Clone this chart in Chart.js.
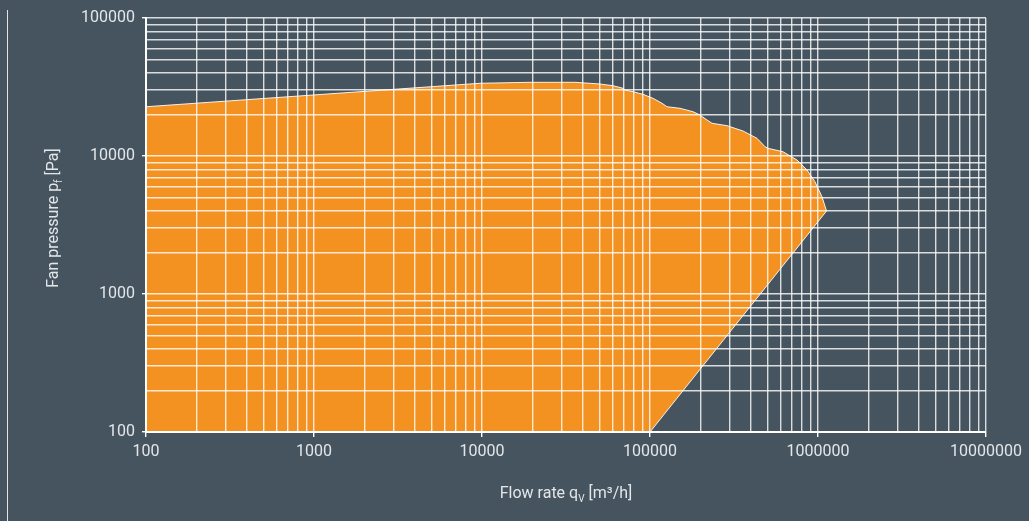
<!DOCTYPE html>
<html>
<head>
<meta charset="utf-8">
<script src="https://cdn.jsdelivr.net/npm/chart.js@4"></script>
<style>
  html, body { margin: 0; padding: 0; background: #46545f; }
  #wrap { position: relative; width: 1029px; height: 521px; }
</style>
</head>
<body>
<div id="wrap"><canvas id="fanChart"></canvas></div>
<script>
// Operating range outline (clockwise round the shape)
const flowRate = [100, 9730, 19300, 35800, 50400, 60200, 69100, 71000, 79200, 90800,
  104200, 117900, 126200, 151000, 180300, 198500, 218400, 233900, 287300, 357800,
  433500, 484000, 503700, 619000, 750000, 860000, 959000, 1056000, 1124000,
  100000, 100];
const fanPressure = [22750, 33650, 34200, 34200, 33240, 32320, 30950, 30080, 29240, 28000,
  26190, 24100, 22760, 22160, 20940, 19820, 18230, 17260, 16590, 15180,
  13430, 11670, 11370, 10740, 9350, 7920, 6510, 5070, 3992,
  100, 100];

// Labelled decades on each axis
const xTickLabels = [100, 1000, 10000, 100000, 1000000, 10000000];
const yTickLabels = [100, 1000, 10000, 100000];

const BG = '#46545f';
const ORANGE = '#f39220';
const GRID = 'rgba(255,255,255,0.8)';
const TEXT = '#e2e6e9';
const FONT = "'Liberation Sans Narrow', 'Roboto', sans-serif";

Chart.defaults.font.family = FONT;
Chart.defaults.font.size = 16;
Chart.defaults.color = TEXT;

// gridline at every 1..9 step of each decade, only the decades are major
function logTicks(scale, decades) {
    const ticks = [];
    for (let i = 0; i < decades.length; i++) {
        const d = decades[i];
        ticks.push({ value: d, major: true });
        if (i < decades.length - 1) {
            for (let m = 2; m <= 9; m++) ticks.push({ value: d * m, major: false });
        }
    }
    scale.ticks = ticks;
}

function drawPieces(ctx, pieces) {
    let total = 0;
    pieces.forEach(p => {
        ctx.font = p.size + 'px ' + FONT;
        p.w = ctx.measureText(p.text).width;
        total += p.w;
    });
    let x = -total / 2;
    pieces.forEach(p => {
        ctx.font = p.size + 'px ' + FONT;
        ctx.fillText(p.text, x, p.dy || 0);
        x += p.w;
    });
}

const decorPlugin = {
    id: 'decor',
    beforeDraw(chart) {
        const ctx = chart.ctx;
        ctx.save();
        ctx.fillStyle = BG;
        ctx.fillRect(0, 0, chart.width, chart.height);
        ctx.strokeStyle = 'rgba(255,255,255,0.85)';
        ctx.lineWidth = 1;
        ctx.beginPath();
        ctx.moveTo(7.5, 10);
        ctx.lineTo(7.5, chart.height);
        ctx.stroke();
        ctx.restore();
    },
    afterDraw(chart) {
        const ctx = chart.ctx;
        const area = chart.chartArea;
        ctx.save();
        ctx.fillStyle = TEXT;
        ctx.textBaseline = 'alphabetic';
        ctx.textAlign = 'left';

        // x axis title
        ctx.save();
        ctx.translate((area.left + area.right) / 2, 498);
        drawPieces(ctx, [
            { text: 'Flow rate q', size: 16 },
            { text: 'V', size: 10, dy: 4 },
            { text: ' [m\u00b3/h]', size: 16 }
        ]);
        ctx.restore();

        // y axis title
        ctx.save();
        ctx.translate(58, (area.top + area.bottom) / 2 - 7);
        ctx.rotate(-Math.PI / 2);
        drawPieces(ctx, [
            { text: 'Fan pressure p', size: 16 },
            { text: 'f', size: 10, dy: 4 },
            { text: ' [Pa]', size: 16 }
        ]);
        ctx.restore();
        ctx.restore();
    }
};

const points = flowRate.map((q, i) => ({ x: q, y: fanPressure[i] }));

const tickMark = c => (c.tick && c.tick.major) ? '#ffffff' : 'rgba(0,0,0,0)';

new Chart(document.getElementById('fanChart'), {
    type: 'line',
    data: {
        datasets: [{
            data: points,
            fill: 'shape',
            backgroundColor: ORANGE,
            borderColor: 'rgba(255,255,255,0.9)',
            borderWidth: 1,
            pointRadius: 0,
            tension: 0
        }]
    },
    options: {
        responsive: true,
        maintainAspectRatio: false,
        animation: false,
        layout: { padding: { left: 0, right: 43, top: 18, bottom: 0 } },
        plugins: {
            legend: { display: false },
            tooltip: { enabled: false }
        },
        scales: {
            x: {
                type: 'logarithmic',
                min: xTickLabels[0],
                max: xTickLabels[xTickLabels.length - 1],
                afterBuildTicks: s => logTicks(s, xTickLabels),
                afterFit: s => { s.height = 89; },
                border: { color: '#ffffff', width: 2, z: 2 },
                grid: {
                    z: 1,
                    color: GRID,
                    lineWidth: 1.4,
                    tickLength: 5,
                    tickColor: tickMark
                },
                ticks: {
                    autoSkip: false,
                    maxRotation: 0,
                    padding: 5,
                    color: TEXT,
                    callback: v => xTickLabels.includes(v) ? String(v) : ''
                }
            },
            y: {
                type: 'logarithmic',
                min: yTickLabels[0],
                max: yTickLabels[yTickLabels.length - 1],
                afterBuildTicks: s => logTicks(s, yTickLabels),
                afterFit: s => { s.width = 146; },
                border: { color: '#ffffff', width: 2, z: 2 },
                grid: {
                    z: 1,
                    color: GRID,
                    lineWidth: 1.4,
                    tickLength: 4,
                    tickColor: tickMark
                },
                ticks: {
                    autoSkip: false,
                    padding: 7,
                    color: TEXT,
                    callback: v => yTickLabels.includes(v) ? String(v) : ''
                }
            }
        }
    },
    plugins: [decorPlugin]
});
</script>
</body>
</html>
